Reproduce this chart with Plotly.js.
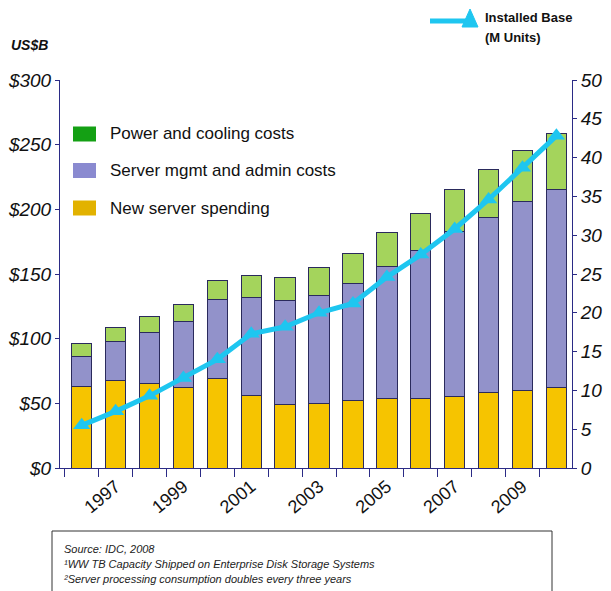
<!DOCTYPE html>
<html>
<head>
<meta charset="utf-8">
<script src="https://cdn.plot.ly/plotly-3.0.1.min.js"></script>
<style>html,body{margin:0;padding:0;background:#fff;}#chart{width:611px;height:591px;}</style>
</head>
<body>
<div id="chart"></div>
<script>
// ---- data ----
var years = [1996,1997,1998,1999,2000,2001,2002,2003,2004,2005,2006,2007,2008,2009,2010];
var newServerSpending = [63, 67.5, 65, 62.5, 69, 56, 49, 49.5, 52, 54, 54, 55, 58, 60, 62.5];
var mgmtAdminCosts   = [23, 30.5, 39.5, 50.5, 61, 75.5, 80.5, 84, 91, 102, 114, 127.5, 136, 146, 152.5];
var powerCoolingCosts = [10.5, 11, 12.5, 13.5, 15, 17, 18, 21.5, 22.5, 26, 29, 32.5, 37, 39.5, 43.5];
var installedBase = [5.5, 7.3, 9.3, 11.6, 14, 17.3, 18.2, 20, 21.2, 24.6, 27.5, 30.8, 34.6, 38.7, 42.8];
var seriesNames = ['New server spending', 'Server mgmt and admin costs', 'Power and cooling costs'];
var lineName = 'Installed Base (M Units)';
var sourceLines = ['Source: IDC, 2008', '\u00B9WW TB Capacity Shipped on Enterprise Disk Storage Systems', '\u00B2Server processing consumption doubles every three years'];

// ---- layout helpers (pixel -> paper) ----
var W = 611, H = 591, L = 60, R = 39, T = 80, B = 123;
var pw = W - L - R, ph = H - T - B;
function px(x){ return (x - L) / pw; }
function py(y){ return (H - B - y) / ph; }

var navy = '#2b2b86';
var FONT = 'Liberation Sans, Arial, sans-serif';
var outline = {color: '#2a2a5c', width: 1};

var traces = [
  {type:'bar', x: years, y: newServerSpending, name: seriesNames[0], marker:{color:'#F6C400', line: outline}, showlegend:false, hoverinfo:'y'},
  {type:'bar', x: years, y: mgmtAdminCosts, name: seriesNames[1], marker:{color:'#9292CA', line: outline}, showlegend:false, hoverinfo:'y'},
  {type:'bar', x: years, y: powerCoolingCosts, name: seriesNames[2], marker:{color:'#A4D45C', line: outline}, showlegend:false, hoverinfo:'y'},
  {type:'scatter', mode:'lines+markers', x: years, y: installedBase, yaxis:'y2', name: lineName,
   line:{color:'#1EC6F0', width:5}, marker:{symbol:'triangle-up', size:15, color:'#1EC6F0'}, showlegend:false}
];

var legendItems = [
  {label: seriesNames[2], color: '#14A014', y: 134},
  {label: seriesNames[1], color: '#8A8AD0', y: 170.5},
  {label: seriesNames[0], color: '#E2B200', y: 208}
];

var shapes = [];
var annotations = [];
legendItems.forEach(function(it){
  shapes.push({type:'rect', xref:'paper', yref:'paper', x0:px(73), x1:px(96), y0:py(it.y-7.5), y1:py(it.y+7.5),
    fillcolor: it.color, line:{width:0}});
  annotations.push({xref:'paper', yref:'paper', x:px(108), y:py(it.y), xanchor:'left', yanchor:'middle',
    text: it.label, showarrow:false, font:{family:FONT, size:17, color:'#111'}});
});

// top-right line legend
shapes.push({type:'line', xref:'paper', yref:'paper', x0:px(430), x1:px(466), y0:py(21), y1:py(21), line:{color:'#1EC6F0', width:5}});
shapes.push({type:'path', xref:'paper', yref:'paper',
  path: 'M '+px(462)+','+py(27)+' L '+px(478)+','+py(27)+' L '+px(470)+','+py(9)+' Z',
  fillcolor:'#1EC6F0', line:{color:'#1EC6F0', width:1}});
annotations.push({xref:'paper', yref:'paper', x:px(483), y:py(18), xanchor:'left', yanchor:'middle',
  text:'<b>Installed Base</b>', showarrow:false, font:{family:FONT, size:13, color:'#111'}});
annotations.push({xref:'paper', yref:'paper', x:px(483), y:py(38), xanchor:'left', yanchor:'middle',
  text:'<b>(M Units)</b>', showarrow:false, font:{family:FONT, size:13, color:'#111'}});
annotations.push({xref:'paper', yref:'paper', x:px(9), y:py(45), xanchor:'left', yanchor:'middle',
  text:'<b><i>US$B</i></b>', showarrow:false, font:{family:FONT, size:14, color:'#111'}});

// source box
shapes.push({type:'rect', xref:'paper', yref:'paper', x0:px(52), x1:px(552), y0:py(531), y1:py(600),
  fillcolor:'rgba(0,0,0,0)', line:{color:'#333', width:1}});
[549, 563.5, 578.5].forEach(function(yy, i){
  annotations.push({xref:'paper', yref:'paper', x:px(62), y:py(yy), xanchor:'left', yanchor:'middle',
    text: sourceLines[i], showarrow:false, font:{family:FONT, size:11, color:'#222', style:'italic'}});
});

var layout = {
  width: W, height: H,
  margin: {l:L, r:R, t:T, b:B, pad:0},
  paper_bgcolor:'#fff', plot_bgcolor:'#fff',
  barmode:'stack', bargap:0.4,
  font:{family:FONT, color:'#111'},
  xaxis:{
    range:[1995.36, 2010.46], tick0:1997, dtick:2, ticks:'', tickangle:-40,
    tickfont:{family:FONT, size:18, color:'#111'},
    showline:true, linecolor:navy, linewidth:1, showgrid:false, zeroline:false,
    minor:{ticks:'outside', tick0:1995.5, dtick:1, ticklen:8, tickcolor:navy, tickwidth:1, showgrid:false},
    fixedrange:true
  },
  yaxis:{
    range:[0,300], dtick:50, tickprefix:'$', ticks:'outside', ticklen:4, tickcolor:navy,
    tickfont:{family:FONT, size:19, color:'#111', style:'italic'},
    showline:true, linecolor:navy, linewidth:1, showgrid:false, zeroline:false, fixedrange:true
  },
  yaxis2:{
    overlaying:'y', side:'right', range:[0,50], dtick:5, ticks:'outside', ticklen:4, tickcolor:navy,
    tickfont:{family:FONT, size:19, color:'#111', style:'italic'},
    showline:true, linecolor:navy, linewidth:1, showgrid:false, zeroline:false, fixedrange:true
  },
  shapes: shapes,
  annotations: annotations,
  showlegend:false
};

Plotly.newPlot('chart', traces, layout, {displayModeBar:false, staticPlot:true});
</script>
</body>
</html>
